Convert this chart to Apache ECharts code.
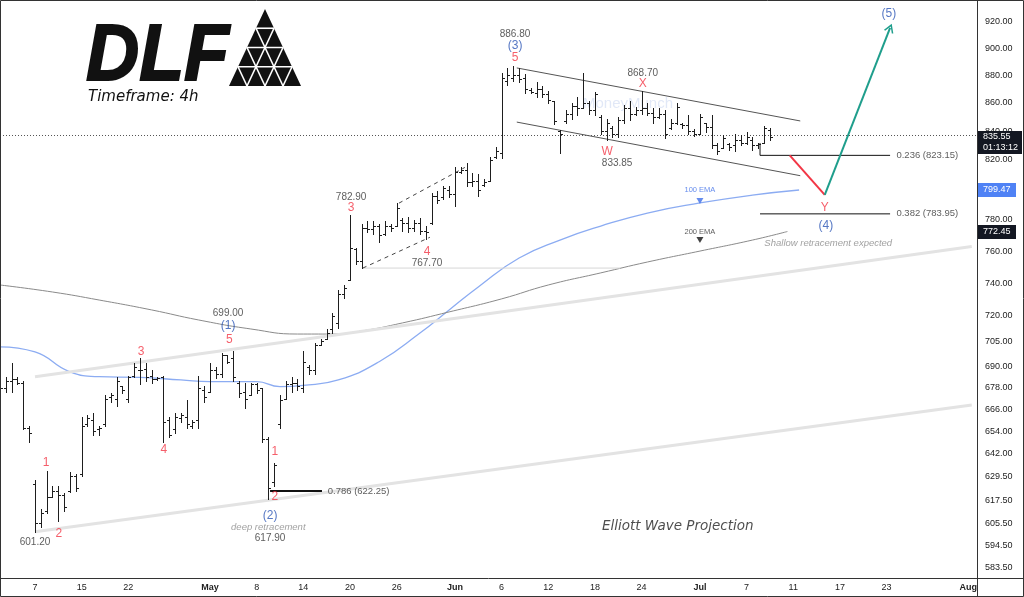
<!DOCTYPE html>
<html>
<head>
<meta charset="utf-8">
<script src="https://cdn.jsdelivr.net/npm/echarts/dist/echarts.min.js"></script>
<style>
html, body { margin: 0; padding: 0; background: #fff; }
#chart { width: 1024px; height: 597px; }
</style>
</head>
<body>
<div id="chart"></div>
<script>
// DLF 4h bars, x = bar index (2 bars per trading day, 0 = 7 Apr first bar)
var barStart = -6;
var opens  = [679,678,682,683,681,656, 626,606,612,619,622,620,622,630,631,658,660,655,658,673,672,679,672,685,688,689,685,683,684,660,655,661,662,657,660,677,676,688,686,697,695,681,676,674,680,678,650,627,658,672,680,681,678,690,688,703,706,712,716,733,742,761,754,775,774,776,771,776,776,780,778,775,778,773,778,796,795,800,797,812,813,805,806,803,806,822,825,876,878,880,878,869,867,870,866,861,840,847,852,858,856,860,855,850,840,842,838,848,856,852,855,856,853,850,852,842,846,845,844,840,838,846,843,830,828,831,830,834,832,834,830,832,841];
var highs  = [684,684,692,684,682,657, 628,613,632.6,625,624.6,621,632,631,662,663,664,657,674,675,684,679,685,692,695,692,688,684,685,662,664,664,671,660,685,679,692,690,698,697,699,682,681,681,681,678,650.7,637,674,682,684.5,683,699,691,704,706,712,722,736,738.5,782.9,762,777.6,779,779,777.6,779,777.6,791,781,782,780,781,776,798,799,802.6,802.6,815,815,817.6,811,810.6,807,822,829,882,885,886.8,885,881,871,875,872,868.5,861,841,855,860,864,882,861.6,868,851,848.6,843.5,850,858.7,861,857,868.7,860,856,856.6,855,848.6,860,846,851,841.6,852,846,851,831.6,837,831.6,838,837,839,835.5,832,843.6,842];
var lows   = [676,676,676,680,655,648, 601.2,604,611,619,607,612,621.6,622,630,657,651.7,652,657,670,668,675,670,684,680,681.7,681,682.5,648,650.7,653,659,656,656,656,670,676,683.6,684,692,682,673,667,674,675,648,617.9,625,656,672,676,676.7,676,686,686,703,706,710,713,731,742,751.6,749.3,772,771,766,770,773,776,773,772,773,771,767.7,777.6,791,794,795,789,811,802.6,802.6,796,802.6,806,821,821,873,875.5,875,867,867,864,864,860,845,825,846,848.6,851,856,852,851,838,833.85,836,836,846,848,851,852,851,846,849,835,841.6,845,842,838,836.6,838,839,828,824,828,827,826,830,831,826.5,828,831.6,834];
var closes = [678,682,683,681,656,653, 606,611,619,622,620,614,630,624,657,661,654,656,672,674,682,677,684,690,688,684,683,683.5,659,652,662,663,658,659,678,673,688,686,697,693,684,675,672,680,677,650,624,636,671,680,681,679,693,688,703,705,710,720,733,737,762,754,775,774,776,770,776,775,788,778,775,778,773,772,796,793,801,797,812,813,805,806,800,805,820,826,878,880,880,877,870,868,870,866,862,847,838,852,858,856,860,855,866,840,846,838,848,856,852,855,856,853,850,852,838,846,857,844,840,838,850,843,830,826,835,829,834,832,836,830,831,842,835.55];

var ema100 = [[-6,701.7],[0,698.7],[6,687.2],[11,684.4],[18,684.0],[25,682.6],[30,681.6],[38,681.6],[42,678.8],[46,679.5],[52,682.6],[59,693],[66,709.8],[71,723.6],[76,737.6],[83,755.6],[90,767],[97,776],[105,784.5],[114,791.1],[123,796.3],[131,799.7]];
var ema200 = [[-6,738.8],[3,734.5],[11,729.6],[20,723.6],[28,717.6],[37,712.2],[45,709.2],[51,709.2],[56,711],[63,715.8],[71,722.4],[80,730.3],[88,738.8],[97,746.3],[105,753.1],[114,760],[123,767],[129,772.5]];

// trend lines, each a list of [bar, price]
var bigChannelTop = [[0,684.4],[160.6,762.9]];
var bigChannelBottom = [[0,601.4],[160.6,668.5]];
var wxyTop = [[82.6,885.4],[131.2,847.1]];
var wxyBottom = [[82.6,846.3],[131.2,809.3]];
var flagTop = [[62.4,791],[73.7,814.9]];
var flagBottom = [[56.2,749.3],[67.7,768.8]];
var wave4Level = [[56.2,749.3],[100.3,749.3]];
var fib786 = [[40.3,622.25],[49.2,622.25]];
var fib236 = [[124.3,831.7],[124.3,823.15],[146.6,823.15]];
var fib382 = [[124.3,783.95],[146.6,783.95]];
var projDown = [[129.4,823.15],[135.4,796.5]];
var projUp = [[135.4,796.5],[146.6,915.4]];
var lastPrice = 835.55;

// texts anchored at [bar, price]
var priceNotes = [[82.3,910.8,'886.80'],[104.2,881.7,'868.70'],[99.8,817.9,'833.85'],[54.2,795.0,'782.90'],[67.2,752.6,'767.70'],[33.1,721.8,'699.00'],[0,596.4,'601.20'],[40.3,598.4,'617.90']];
var redLabels = [[82.3,892.8,'5'],[104.2,873.6,'X'],[98.1,825.5,'W'],[54.2,787.8,'3'],[67.2,759.6,'4'],[33.3,705.6,'5'],[18.2,698.7,'3'],[22.1,644.1,'4'],[1.9,637.2,'1'],[4.1,600.3,'2'],[41.1,643.0,'1'],[41.1,619.3,'2'],[135.4,787.8,'Y']];
var blueLabels = [[82.3,901.8,'(3)'],[33.1,713.9,'(1)'],[40.3,609.6,'(2)'],[135.6,776.0,'(4)'],[146.4,926.2,'(5)']];
var grayNotes = [[40,603.6,'deep retracement'],[136,765.0,'Shallow retracement expected']];
var fibNotes = [[50.1,622.25,'0.786 (622.25)'],[147.6,823.15,'0.236 (823.15)'],[147.6,783.95,'0.382 (783.95)']];
var emaNotes = [[114,799.7,'100 EMA'],[114,772.5,'200 EMA']];
var emaMarks = [[114,792.4],[114,767.0]];
var titleNote = [[110.2,604.1,'Elliott Wave Projection']];

var xTickPos  = [0,8,16,30,38,46,54,62,72,80,88,96,104,114,122,130,138,146,160];
var xTickText = ['7','15','22','May','8','14','20','26','Jun','6','12','18','24','Jul','7','11','17','23','Aug'];
var yTicks = [920,900,880,860,840,820,800,780,760,740,720,705,690,678,666,654,642,629.5,617.5,605.5,594.5,583.5];

var L = Math.log;
var yMin = L(578.65), yMax = L(937.0);
var FONT = '"Liberation Sans", Arial, sans-serif';

function pts(arr) { return arr.map(function (p) { return [p[0], L(p[1])]; }); }

function segment(arr, color, width, type) {
  return {
    type: 'line', data: pts(arr), symbol: 'none', silent: true, z: 3,
    lineStyle: { color: color, width: width, type: type || 'solid' }
  };
}

function textSeries(arr, label) {
  return {
    type: 'scatter', silent: true, z: 6, symbolSize: 1,
    itemStyle: { color: 'rgba(0,0,0,0)' },
    data: arr.map(function (a) { return { value: [a[0], L(a[1])], name: a[2] }; }),
    label: Object.assign({ show: true, position: 'inside', formatter: '{b}', fontFamily: FONT }, label)
  };
}

var ohlc = opens.map(function (o, i) {
  return [barStart + i, L(o), L(highs[i]), L(lows[i]), L(closes[i])];
});

function renderBar(params, api) {
  var b = api.value(0);
  var h = api.coord([b, api.value(2)]);
  var l = api.coord([b, api.value(3)]);
  var o = api.coord([b, api.value(1)]);
  var c = api.coord([b, api.value(4)]);
  var x = Math.round(h[0]) + 0.5;
  var yo = Math.round(o[1]) + 0.5, yc = Math.round(c[1]) + 0.5;
  var st = { stroke: '#1e1e1e', lineWidth: 1 };
  return {
    type: 'group',
    children: [
      { type: 'line', shape: { x1: x, y1: Math.round(h[1]), x2: x, y2: Math.round(l[1]) + 1 }, style: st },
      { type: 'line', shape: { x1: x - 2.5, y1: yo, x2: x, y2: yo }, style: st },
      { type: 'line', shape: { x1: x, y1: yc, x2: x + 2.5, y2: yc }, style: st }
    ]
  };
}

var option = {
  animation: false,
  backgroundColor: '#fff',
  grid: { left: 0, right: 47, top: 0, bottom: 19, containLabel: false },
  xAxis: {
    type: 'value', min: -6, max: 161.5,
    splitLine: { show: false },
    axisLine: { show: true, onZero: false, lineStyle: { color: '#333', width: 1 } },
    axisTick: { show: false },
    axisLabel: {
      customValues: xTickPos, margin: 5, fontSize: 9, color: '#222', fontFamily: FONT,
      formatter: function (v) {
        var i = xTickPos.indexOf(Math.round(v));
        if (i < 0) return '';
        var t = xTickText[i];
        return /[A-Za-z]/.test(t) ? '{m|' + t + '}' : t;
      },
      rich: { m: { fontWeight: 'bold', fontSize: 9, fontFamily: FONT, color: '#222' } }
    }
  },
  yAxis: {
    type: 'value', position: 'right', min: yMin, max: yMax, scale: true,
    splitLine: { show: false },
    axisLine: { show: true, onZero: false, lineStyle: { color: '#333', width: 1 } },
    axisTick: { show: false },
    axisLabel: {
      customValues: yTicks.map(L), margin: 8, fontSize: 9, color: '#222', fontFamily: FONT,
      formatter: function (v) {
        var best = yTicks[0];
        yTicks.forEach(function (t) { if (Math.abs(L(t) - v) < Math.abs(L(best) - v)) best = t; });
        return best.toFixed(2);
      }
    }
  },
  series: [
    segment(bigChannelTop, '#e3e3e3', 3),
    segment(bigChannelBottom, '#e3e3e3', 3),
    {
      type: 'line', data: pts(ema100), smooth: true, symbol: 'none', silent: true, z: 2,
      lineStyle: { color: '#8cacf2', width: 1.3 }
    },
    {
      type: 'line', data: pts(ema200), smooth: true, symbol: 'none', silent: true, z: 2,
      lineStyle: { color: '#8a8a8a', width: 1 }
    },
    segment(wave4Level, '#d6d6d6', 1),
    segment(wxyTop, '#555', 1),
    segment(wxyBottom, '#555', 1),
    segment(flagTop, '#444', 1, [4, 4]),
    segment(flagBottom, '#444', 1, [4, 4]),
    segment(fib786, '#111', 2),
    segment(fib236, '#111', 1),
    segment(fib382, '#111', 1),
    segment(projDown, '#f23645', 2),
    {
      type: 'line', data: [], silent: true, z: 4,
      markLine: {
        silent: true, animation: false,
        symbol: ['none', 'path://M5,0 L10,9 L8.6,9.6 L5,3 L1.4,9.6 L0,9 Z'], symbolSize: [10, 9],
        label: { show: false },
        lineStyle: { color: '#1f9e8c', width: 2, type: 'solid' },
        data: [[{ coord: pts(projUp)[0] }, { coord: pts(projUp)[1] }]]
      }
    },
    {
      type: 'line', data: [], silent: true, z: 1,
      markLine: {
        silent: true, animation: false, symbol: 'none', label: { show: false },
        lineStyle: { color: '#555', width: 1, type: [1, 2] },
        data: [{ yAxis: L(lastPrice) }]
      }
    },
    {
      type: 'custom', renderItem: renderBar, data: ohlc, z: 5, silent: true,
      encode: { x: 0, y: [1, 2, 3, 4] }
    },
    {
      type: 'scatter', silent: true, z: 6, symbol: 'triangle', symbolRotate: 180, symbolSize: [7, 6],
      data: [
        { value: pts(emaMarks)[0], itemStyle: { color: '#3f6fe8' } },
        { value: pts(emaMarks)[1], itemStyle: { color: '#111' } }
      ]
    },
    textSeries(priceNotes, { fontSize: 10, color: '#333' }),
    textSeries(redLabels, { fontSize: 12, color: '#f23645' }),
    textSeries(blueLabels, { fontSize: 12, color: '#2a55b5' }),
    textSeries(grayNotes, { fontSize: 9.5, color: '#8a8a8a', fontStyle: 'italic' }),
    textSeries(fibNotes, { fontSize: 9.5, color: '#333', position: 'right', distance: 0 }),
    {
      type: 'scatter', silent: true, z: 6, symbolSize: 1, itemStyle: { color: 'rgba(0,0,0,0)' },
      data: emaNotes.map(function (a, i) {
        return { value: [a[0], L(a[1])], name: a[2], label: { color: i ? '#333' : '#3f6fe8' } };
      }),
      label: { show: true, position: 'inside', formatter: '{b}', fontSize: 7.5, fontFamily: FONT }
    },
    textSeries(titleNote, { fontSize: 13.5, color: '#222', fontStyle: 'italic', fontFamily: '"DejaVu Sans", sans-serif' })
  ]
};

var chart = echarts.init(document.getElementById('chart'));
chart.setOption(option);

function py(p) { return chart.convertToPixel({ yAxisIndex: 0 }, L(p)); }

// logo triangle split into small triangles
var tri = { ax: 265, ay: 9, bl: 229, br: 301, by: 86 };
var logo = [
  { type: 'polygon', shape: { points: [[tri.ax, tri.ay], [tri.br, tri.by], [tri.bl, tri.by]] }, style: { fill: '#111' } }
];
for (var k = 1; k < 4; k++) {
  var f = k / 4;
  var yk = tri.ay + (tri.by - tri.ay) * f;
  var xl = tri.ax + (tri.bl - tri.ax) * f, xr = tri.ax + (tri.br - tri.ax) * f;
  logo.push({ type: 'line', shape: { x1: xl, y1: yk, x2: xr, y2: yk }, style: { stroke: '#fff', lineWidth: 1.6 } });
  var bx = tri.bl + (tri.br - tri.bl) * f;
  logo.push({ type: 'line', shape: { x1: bx, y1: tri.by, x2: tri.ax + (tri.bl - tri.ax) * (1 - f), y2: tri.ay + (tri.by - tri.ay) * (1 - f) }, style: { stroke: '#fff', lineWidth: 1.6 } });
  logo.push({ type: 'line', shape: { x1: bx, y1: tri.by, x2: tri.ax + (tri.br - tri.ax) * f, y2: tri.ay + (tri.by - tri.ay) * f }, style: { stroke: '#fff', lineWidth: 1.6 } });
}

var tagLast = py(lastPrice), tag100 = py(799.47), tag200 = py(772.45);
var graphics = logo.concat([
  { type: 'text', x: 86, y: 58, scaleX: 0.92, style: { text: 'DLF', font: 'italic 900 80px "Liberation Sans", Arial, sans-serif', fill: '#111', stroke: '#111', lineWidth: 2, verticalAlign: 'middle' } },
  { type: 'text', x: 88, y: 97, style: { text: 'Timeframe: 4h', font: 'italic 15px "DejaVu Sans", sans-serif', fill: '#111', verticalAlign: 'middle' } },
  { type: 'text', x: 628, y: 104, style: { text: 'MoneyMunch', font: '15px "Liberation Sans", sans-serif', fill: 'rgba(120,150,220,0.22)', align: 'center', verticalAlign: 'middle' } },
  { type: 'rect', shape: { x: 978, y: Math.round(tagLast) - 6, width: 44, height: 23 }, style: { fill: '#131722' }, z: 100 },
  { type: 'text', x: 983, y: Math.round(tagLast), style: { text: lastPrice.toFixed(2), font: '9px "Liberation Sans", sans-serif', fill: '#fff', verticalAlign: 'middle' }, z: 101 },
  { type: 'text', x: 983, y: Math.round(tagLast) + 11, style: { text: '01:13:12', font: '9px "Liberation Sans", sans-serif', fill: '#fff', verticalAlign: 'middle' }, z: 101 },
  { type: 'rect', shape: { x: 978, y: Math.round(tag100) - 7, width: 38, height: 14 }, style: { fill: '#4f82f5' }, z: 100 },
  { type: 'text', x: 983, y: Math.round(tag100), style: { text: '799.47', font: '9px "Liberation Sans", sans-serif', fill: '#fff', verticalAlign: 'middle' }, z: 101 },
  { type: 'rect', shape: { x: 978, y: Math.round(tag200) - 7, width: 38, height: 14 }, style: { fill: '#131722' }, z: 100 },
  { type: 'text', x: 983, y: Math.round(tag200), style: { text: '772.45', font: '9px "Liberation Sans", sans-serif', fill: '#fff', verticalAlign: 'middle' }, z: 101 },
  { type: 'line', shape: { x1: 977, y1: 578.5, x2: 1024, y2: 578.5 }, style: { stroke: '#333', lineWidth: 1 }, z: 100 },
  { type: 'line', shape: { x1: 977.5, y1: 578, x2: 977.5, y2: 597 }, style: { stroke: '#333', lineWidth: 1 }, z: 100 },
  { type: 'rect', shape: { x: 0.5, y: 0.5, width: 1023, height: 596 }, style: { fill: 'none', stroke: '#333', lineWidth: 1 }, z: 100 }
]);
chart.setOption({ graphic: graphics });
</script>
</body>
</html>
